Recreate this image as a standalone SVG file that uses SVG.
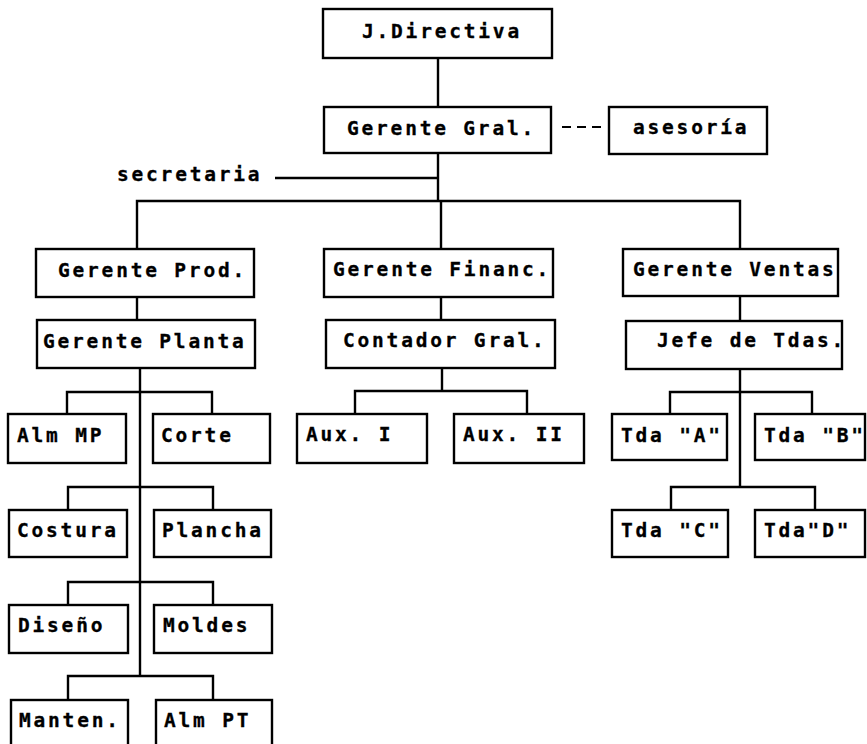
<svg xmlns="http://www.w3.org/2000/svg" width="867" height="744" viewBox="0 0 867 744">
<style>
rect{fill:#fff;stroke:#000;stroke-width:2.4}
.c line,.c path{stroke:#000;stroke-width:2.4;fill:none}
text{font-family:"DejaVu Sans Mono","Liberation Mono",monospace;font-size:19.5px;font-weight:bold;letter-spacing:2.8px;fill:#000;stroke:#000;stroke-width:0.3}
</style>
<rect x="0" y="0" width="867" height="744" style="stroke:none"/>
<g class="c" id="connectors">
<line x1="438" y1="58" x2="438" y2="107"/>
<line x1="438" y1="153" x2="438" y2="201"/>
<line x1="275" y1="178" x2="438" y2="178"/>
<line x1="562" y1="127" x2="603" y2="127" style="stroke-dasharray:9 6;stroke-width:2"/>
<path d="M137 249 V201 H740 V249"/>
<line x1="441" y1="201" x2="441" y2="249"/>
<line x1="137" y1="297" x2="137" y2="320"/>
<line x1="441" y1="297" x2="441" y2="320"/>
<line x1="740" y1="296" x2="740" y2="321"/>
<line x1="140" y1="368" x2="140" y2="676"/>
<path d="M67 414 V392 H212 V414"/>
<path d="M68 510 V487 H213 V510"/>
<path d="M68 605 V582 H213 V605"/>
<path d="M68 700 V676 H213 V700"/>
<line x1="442" y1="368" x2="442" y2="391"/>
<path d="M355 414 V391 H527 V414"/>
<line x1="740" y1="369" x2="740" y2="487"/>
<path d="M670 414 V392 H812 V414"/>
<path d="M671 510 V487 H815 V510"/>
</g>
<g id="jdirectiva"><rect x="323" y="9" width="229" height="49"/><text x="362" y="38">J.Directiva</text></g>
<g id="gerentegral"><rect x="324" y="107" width="227" height="46"/><text x="347" y="135">Gerente Gral.</text></g>
<g id="asesoria"><rect x="609" y="107" width="158" height="47"/><text x="633" y="134">asesoría</text></g>
<g id="secretaria"><text x="117" y="181">secretaria</text></g>
<g id="gerenteprod"><rect x="36" y="249" width="218" height="48"/><text x="58" y="277">Gerente Prod.</text></g>
<g id="gerenteplanta"><rect x="37" y="320" width="218" height="48"/><text x="43" y="348">Gerente Planta</text></g>
<g id="gerentefinanc"><rect x="324" y="249" width="229" height="48"/><text x="333" y="276">Gerente Financ.</text></g>
<g id="contadorgral"><rect x="326" y="320" width="229" height="48"/><text x="343" y="347">Contador Gral.</text></g>
<g id="gerenteventas"><rect x="623" y="249" width="215" height="47"/><text x="633" y="276">Gerente Ventas</text></g>
<g id="jefetdas"><rect x="626" y="321" width="216" height="48"/><text x="657" y="347">Jefe de Tdas.</text></g>
<g id="almmp"><rect x="8" y="414" width="118" height="49"/><text x="17" y="442">Alm MP</text></g>
<g id="corte"><rect x="153" y="414" width="117" height="49"/><text x="161" y="442">Corte</text></g>
<g id="costura"><rect x="9" y="510" width="118" height="47"/><text x="17" y="537">Costura</text></g>
<g id="plancha"><rect x="154" y="510" width="117" height="47"/><text x="162" y="537">Plancha</text></g>
<g id="diseno"><rect x="9" y="605" width="119" height="48"/><text x="18" y="632">Diseño</text></g>
<g id="moldes"><rect x="154" y="605" width="118" height="48"/><text x="163" y="632">Moldes</text></g>
<g id="manten"><rect x="11" y="700" width="117" height="60"/><text x="19" y="727">Manten.</text></g>
<g id="almpt"><rect x="156" y="700" width="116" height="60"/><text x="164" y="727">Alm PT</text></g>
<g id="aux1"><rect x="297" y="414" width="130" height="49"/><text x="306" y="441">Aux. I</text></g>
<g id="aux2"><rect x="454" y="414" width="130" height="49"/><text x="463" y="441">Aux. II</text></g>
<g id="tdaa"><rect x="612" y="414" width="115" height="46"/><text x="621" y="442">Tda "A"</text></g>
<g id="tdab"><rect x="755" y="414" width="110" height="46"/><text x="764" y="442">Tda "B"</text></g>
<g id="tdac"><rect x="612" y="510" width="116" height="47"/><text x="621" y="537">Tda "C"</text></g>
<g id="tdad"><rect x="755" y="510" width="110" height="47"/><text x="764" y="537">Tda"D"</text></g>
</svg>
